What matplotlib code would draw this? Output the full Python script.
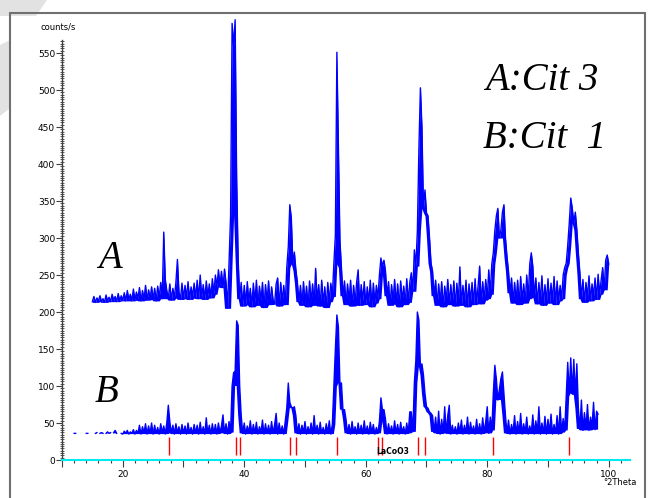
import numpy as np
import matplotlib
matplotlib.use("Agg")
import matplotlib.pyplot as plt
from matplotlib.ticker import MultipleLocator, FuncFormatter
from matplotlib.patches import Rectangle, Polygon

# pattern A (Cit 3): 15.00 .. 100.00 deg, step 0.25
a_start, a_step = 15.0, 0.25
a_counts = [
    214, 221, 213, 219, 215, 222, 214, 218, 213, 223, 215, 220, 214, 224, 216, 221, 214, 225, 215, 222,
    216, 226, 215, 229, 217, 224, 215, 231, 216, 227, 218, 233, 215, 229, 217, 236, 216, 230, 218, 234,
    217, 232, 215, 235, 219, 240, 218, 308, 244, 229, 218, 238, 216, 232, 219, 240, 271, 227, 217, 239,
    218, 236, 220, 241, 217, 234, 221, 239, 219, 243, 218, 250, 220, 237, 217, 242, 221, 238, 219, 245,
    224, 250, 234, 257, 236, 255, 233, 258, 240, 205, 268, 330, 590, 560, 595, 380, 270, 218, 240, 208,
    236, 210, 241, 214, 232, 207, 239, 212, 243, 209, 235, 215, 240, 206, 237, 213, 242, 210, 234, 216,
    211, 238, 246, 208, 240, 214, 236, 210, 260, 288, 345, 327, 265, 281, 257, 240, 214, 236, 209, 241,
    212, 235, 207, 242, 213, 238, 209, 259, 215, 237, 208, 243, 211, 234, 206, 240, 214, 239, 221, 265,
    304, 551, 420, 297, 260, 222, 242, 210, 238, 214, 243, 208, 236, 212, 240, 257, 209, 237, 215, 241,
    210, 234, 213, 243, 207, 239, 212, 236, 218, 250, 273, 262, 270, 255, 222, 241, 209, 237, 214, 244,
    211, 238, 207, 242, 215, 235, 210, 245, 213, 240, 253, 228, 284, 262, 310, 420, 503, 450, 340, 365,
    334, 330, 300, 266, 255, 222, 243, 209, 238, 213, 241, 207, 235, 215, 244, 210, 237, 212, 242, 208,
    239, 214, 261, 209, 236, 213, 243, 207, 238, 215, 240, 210, 245, 212, 236, 262, 211, 241, 216, 244,
    218, 257, 224, 265, 280, 310, 330, 340, 300, 311, 335, 345, 300, 275, 255, 226, 246, 212, 240, 215,
    243, 210, 248, 215, 238, 212, 250, 218, 265, 280, 262, 220, 246, 211, 240, 216, 249, 209, 237, 214,
    245, 212, 239, 216, 248, 210, 242, 215, 236, 218, 250, 260, 266, 290, 320, 354, 340, 320, 335, 311,
    280, 253, 218, 244, 213, 240, 220, 249, 215, 238, 222, 246, 217, 251, 224, 243, 260, 230, 270, 277,
    265,
]

# pattern B (Cit 1): 12.00 .. 98.25 deg, step 0.25 (nan = gap in the trace)
nan = np.nan
b_start, b_step = 12.0, 0.25
b_counts = [
    36, 36, nan, nan, nan, nan, nan, nan, 36, 36, nan, nan,
    nan, nan, 36, 37, nan, 36, 37, 36, nan, 36, 38, 36, 37, nan, 37, 40, 36, nan, nan, 36,
    35, 39, 36, 40, 35, 38, 36, 41, 35, 40, 36, 47, 35, 45, 37, 49, 35, 46, 36, 50,
    35, 47, 36, 44, 35, 49, 37, 46, 35, 50, 74, 52, 36, 47, 35, 49, 37, 45, 35, 48,
    36, 46, 35, 50, 37, 44, 35, 48, 36, 47, 35, 51, 36, 45, 35, 57, 36, 47, 35, 49,
    36, 48, 35, 50, 37, 46, 61, 36, 49, 35, 52, 37, 100, 118, 120, 188, 182, 100, 60, 36,
    50, 35, 46, 37, 53, 35, 48, 36, 51, 35, 45, 37, 54, 35, 49, 36, 47, 35, 52, 36,
    48, 63, 35, 50, 37, 46, 35, 52, 70, 104, 78, 72, 70, 72, 60, 36, 49, 35, 47, 37,
    52, 35, 45, 36, 50, 35, 60, 37, 47, 35, 51, 36, 44, 35, 49, 37, 53, 35, 48, 99,
    150, 196, 180, 104, 104, 68, 68, 55, 36, 48, 35, 52, 37, 45, 35, 50, 36, 47, 35, 53,
    36, 46, 35, 51, 37, 48, 35, 44, 36, 52, 84, 68, 68, 55, 35, 49, 37, 46, 35, 53,
    36, 48, 35, 51, 37, 45, 35, 50, 36, 65, 65, 38, 104, 135, 200, 189, 126, 130, 115, 90,
    72, 70, 65, 63, 60, 38, 58, 36, 66, 35, 55, 37, 72, 36, 60, 74, 35, 47, 36, 45,
    35, 50, 37, 54, 35, 47, 36, 58, 35, 51, 37, 46, 35, 55, 36, 49, 35, 57, 37, 52,
    72, 36, 58, 40, 90, 128, 110, 81, 95, 110, 119, 90, 60, 36, 54, 35, 48, 37, 60, 35,
    52, 36, 63, 35, 49, 37, 58, 35, 46, 36, 61, 35, 53, 37, 72, 35, 50, 36, 59, 35,
    55, 37, 62, 35, 48, 36, 60, 35, 72, 37, 56, 40, 86, 132, 90, 138, 92, 136, 88, 130,
    70, 42, 81, 40, 64, 43, 75, 40, 58, 45, 78, 41, 66, 62,
]

# reference lines (LaCoO3 card)
ref_pos = [27.6, 38.7, 39.3, 47.5, 48.5, 55.2, 62.0, 62.6, 68.6, 69.8, 80.9, 93.4]
ref_low, ref_high = 7, 31


def band_floor(c, k=2):
    # lowest value within +-k points, so the noisy trace reads as a filled band
    c = np.asarray(c, dtype=float)
    p = np.pad(c, k, mode="edge")
    out = p[: len(c)].copy()
    for i in range(1, 2 * k + 1):
        out = np.fmin(out, p[i: i + len(c)])
    return out


a_theta = a_start + a_step * np.arange(len(a_counts))
b_theta = b_start + b_step * np.arange(len(b_counts))
b_arr = np.array(b_counts, dtype=float)

fig = plt.figure(figsize=(6.54, 4.98), dpi=100)
ax = fig.add_axes([0.0948, 0.0763, 0.8685, 0.8434])

blue = "#0000ff"
ax.fill_between(a_theta, band_floor(a_counts), a_counts, color=blue, lw=0, clip_on=False)
ax.fill_between(b_theta, band_floor(b_arr), b_arr, where=~np.isnan(b_arr), color=blue, lw=0)
ax.plot(a_theta, a_counts, color=blue, lw=1.0, clip_on=False)
ax.plot(b_theta, b_counts, color=blue, lw=1.0, clip_on=False)
ax.vlines(ref_pos, ref_low, ref_high, color="#ff0000", lw=1.0)
ax.text(61.8, 11, "LaCoO3", fontsize=5.5, fontweight="bold", va="center", ha="left")

ax.set_xlim(10, 103.5)
ax.set_ylim(0, 567.6)

for s in ["top", "right"]:
    ax.spines[s].set_visible(False)
ax.spines["bottom"].set_color("#00e8f0")
ax.spines["bottom"].set_linewidth(1.5)
ax.spines["left"].set_color("#404040")
ax.spines["left"].set_linewidth(1.0)

ax.xaxis.set_major_locator(MultipleLocator(10))
ax.xaxis.set_minor_locator(MultipleLocator(2))
ax.xaxis.set_major_formatter(FuncFormatter(lambda v, p: f"{v:.0f}" if v % 20 == 0 else ""))
ax.yaxis.set_major_locator(MultipleLocator(50))
ax.yaxis.set_minor_locator(MultipleLocator(50 / 16))
ax.tick_params(axis="x", which="major", length=5, width=0.8, color="#404040", labelsize=6.5, pad=2)
ax.tick_params(axis="x", which="minor", length=2.5, width=0.8, color="#404040")
ax.tick_params(axis="y", which="major", length=4, width=0.8, color="#404040", labelsize=6.5, pad=1)
ax.tick_params(axis="y", which="minor", direction="inout", length=3, width=0.6, color="#404040")

fig.text(58 / 654, 1 - 27 / 498, "counts/s", fontsize=6, ha="center", va="center")
fig.text(620 / 654, 1 - 482 / 498, "°2Theta", fontsize=6, ha="center", va="center")

serif = dict(family="Liberation Serif", style="italic", fontsize=28)
fig.text(110 / 654, 1 - 268 / 498, "A", ha="center", va="baseline", **serif)
fig.text(107 / 654, 1 - 402 / 498, "B", ha="center", va="baseline", **serif)
fig.text(485 / 654, 1 - 90 / 498, "A:Cit 3", ha="left", va="baseline", **serif)
fig.text(483 / 654, 1 - 148 / 498, "B:Cit  1", ha="left", va="baseline", **serif)

# page frame and grey mark in the corner
fig.add_artist(Polygon([(0, 1), (47 / 654, 1), (36 / 654, 1 - 16 / 498), (0, 1 - 16 / 498)],
                       closed=True, transform=fig.transFigure, color="#e2e2e2", lw=0))
fig.add_artist(Polygon([(0, 1 - 45 / 498), (10 / 654, 1 - 40 / 498), (10 / 654, 1 - 108 / 498),
                        (0, 1 - 116 / 498)],
                       closed=True, transform=fig.transFigure, color="#e2e2e2", lw=0))
fig.add_artist(Rectangle((10 / 654, -0.05), 635 / 654, 1.05 - 13 / 498, transform=fig.transFigure,
                         fill=False, edgecolor="#707070", lw=1.5))

fig.savefig("out.png", dpi=100)
